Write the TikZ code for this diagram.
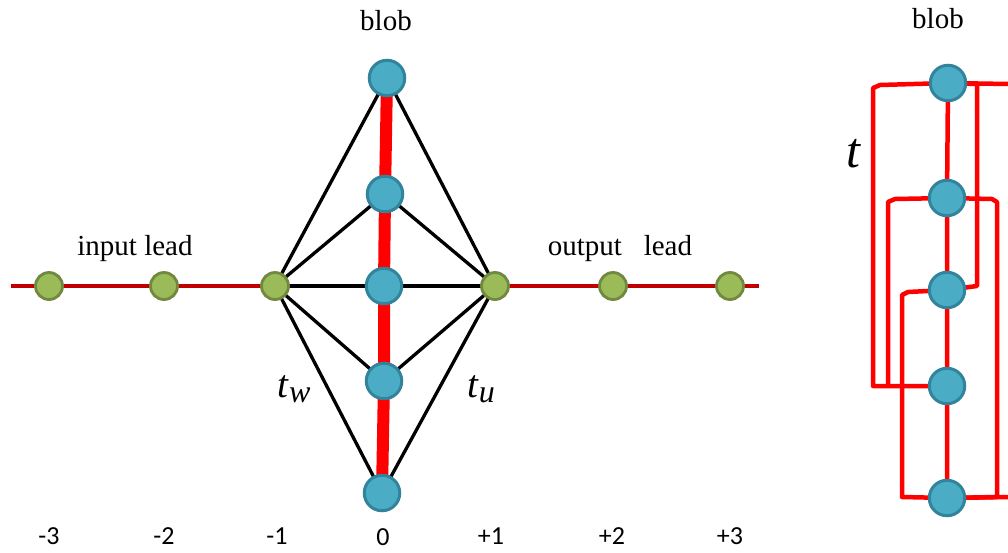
\documentclass[tikz,border=0pt]{standalone}
\usepackage{fontspec}
\setmainfont{Liberation Serif}
\newfontfamily\numfont{Carlito}
\usetikzlibrary{backgrounds}
\definecolor{blobfill}{HTML}{4BACC6}
\definecolor{blobedge}{HTML}{31849B}
\definecolor{leadfill}{HTML}{9BBB59}
\definecolor{leadedge}{HTML}{71893F}
\definecolor{leadline}{HTML}{C00000}
\definecolor{hop}{HTML}{FF0000}
\begin{document}
\begin{tikzpicture}[x=1pt,y=-1pt,
  blobnode/.style={circle, draw=blobedge, fill=blobfill, line width=3pt, minimum size=35.5pt, inner sep=0pt},
  leadnode/.style={circle, draw=leadedge, fill=leadfill, line width=2.8pt, minimum size=27pt, inner sep=0pt},
  leadwire/.style={draw=leadline, line width=4.5pt},
  couple/.style={draw=black, line width=3.3pt},
  chain/.style={draw=hop, line width=12pt},
  hopline/.style={draw=hop, line width=4.5pt, line join=round},
  lbl/.style={font=\fontsize{29}{32}\selectfont, anchor=base, inner sep=0pt},
  numlbl/.style={font=\numfont\fontsize{26}{28}\selectfont, anchor=base, inner sep=0pt},
]
\useasboundingbox (0,0) rectangle (1008,552);

% ---------- left panel ----------
\coordinate (lend) at (11,286);
\coordinate (rend) at (759,286);
\node[leadnode] (m3) at (49,286) {};
\node[leadnode] (m2) at (164,286) {};
\node[leadnode] (m1) at (275,286) {};
\node[leadnode] (p1) at (495,286) {};
\node[leadnode] (p2) at (613,286) {};
\node[leadnode] (p3) at (730,286) {};

\node[blobnode] (b1) at (387,78) {};
\node[blobnode] (b2) at (385,194) {};
\node[blobnode] (b3) at (384,286) {};
\node[blobnode] (b4) at (384,381) {};
\node[blobnode] (b5) at (382,493) {};

\begin{scope}[on background layer]
  \draw[leadwire] (lend) -- (m1.center);
  \draw[leadwire] (p1.center) -- (rend);
  \foreach \b in {b1,b2,b3,b4,b5} {
    \draw[couple] (m1.center) -- (\b.center);
    \draw[couple] (p1.center) -- (\b.center);
  }
  \draw[chain] (b1.center) -- (b2.center) -- (b3.center) -- (b4.center) -- (b5.center);
\end{scope}

\node[lbl] (blobL) at (386,30) {blob};
\node[lbl] (inlead) at (135,255) {input lead};
\node[lbl] (outlead) at (620,255) {output\hspace{0.5em} lead};
\node[anchor=base, inner sep=0pt] (tw) at (294,397) {\fontsize{39}{42}\selectfont\textit{t}\raisebox{-5pt}{\fontsize{32}{34}\selectfont\textit{w}}};
\node[anchor=base, inner sep=0pt] (tu) at (481,397) {\fontsize{39}{42}\selectfont\textit{t}\raisebox{-5pt}{\fontsize{32}{34}\selectfont\textit{u}}};

\node[numlbl] (n-3) at (49,544) {-3};
\node[numlbl] (n-2) at (164,544) {-2};
\node[numlbl] (n-1) at (277,544) {-1};
\node[numlbl] (n0) at (383,545) {0};
\node[numlbl] (n+1) at (491,544) {+1};
\node[numlbl] (n+2) at (612,544) {+2};
\node[numlbl] (n+3) at (730,544) {+3};

% ---------- right panel ----------
\node[blobnode] (r1) at (948,83) {};
\node[blobnode] (r2) at (947,198) {};
\node[blobnode] (r3) at (947,290) {};
\node[blobnode] (r4) at (947,386) {};
\node[blobnode] (r5) at (947,498) {};
\coordinate (rtop) at (1008,84);
\coordinate (rbot) at (1008,497);

\begin{scope}[on background layer]
  \draw[hopline] (r1.center) -- (r2.center) -- (r3.center) -- (r4.center) -- (r5.center);
  \draw[hopline] (r1.center) -- (880,85) -- (873,88) -- (873,386) -- (r4.center);
  \draw[hopline] (r2.center) -- (895,199) -- (888,202) -- (888,387);
  \draw[hopline] (r3.center) -- (908,292) -- (902,295) -- (902,497) -- (r5.center);
  \draw[hopline] (r1.center) -- (977,84) -- (977,286) -- (r3.center);
  \draw[hopline] (r1.center) -- (rtop);
  \draw[hopline] (r2.center) -- (992,199) -- (997,202) -- (997,497) -- (r5.center);
  \draw[hopline] (r5.center) -- (rbot);
\end{scope}

\node[lbl] (blobR) at (938,28) {blob};
\node[anchor=base, inner sep=0pt] (tR) at (854,167) {\fontsize{50}{54}\selectfont\textit{t}};
\end{tikzpicture}
\end{document}
